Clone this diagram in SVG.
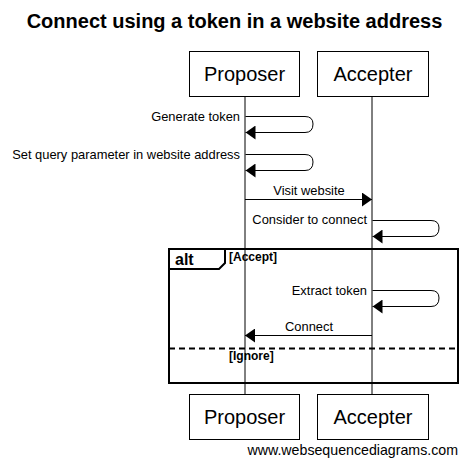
<svg xmlns="http://www.w3.org/2000/svg" width="469" height="465" viewBox="0 0 469 465">
<style>
.box{fill:#fff;stroke:#000;stroke-width:1}
.life{stroke:#000;stroke-width:1}
.pname{font-family:"Liberation Sans",Arial,sans-serif;font-size:20px;text-anchor:middle}
.lbl{font-family:"Liberation Sans",Arial,sans-serif;font-size:12.9px}
.msg{fill:none;stroke:#000;stroke-width:1}
.frame{fill:none;stroke:#000;stroke-width:2}
.bold{font-family:"Liberation Sans",Arial,sans-serif;font-weight:bold}
</style>
<defs>
<marker id="ah" viewBox="0 0 10 14" refX="10" refY="7" markerWidth="10" markerHeight="14" markerUnits="userSpaceOnUse" orient="auto">
<path d="M0,0 L10,7 L0,14 Z" fill="#000"/>
</marker>
</defs>
<rect width="469" height="465" fill="#fff"/>
<text x="234.5" y="28" class="bold" font-size="20" text-anchor="middle">Connect using a token in a website address</text>

<g id="lifelines">
<line class="life" x1="245" y1="96" x2="245" y2="394"/>
<line class="life" x1="372" y1="96" x2="372" y2="394"/>
</g>

<g id="proposer-top"><rect class="box" x="189.5" y="51.5" width="110" height="45"/><text class="pname" x="244.5" y="81">Proposer</text></g>
<g id="accepter-top"><rect class="box" x="317.5" y="51.5" width="111" height="45"/><text class="pname" x="373" y="81">Accepter</text></g>
<g id="proposer-bottom"><rect class="box" x="189.5" y="394.5" width="110" height="45"/><text class="pname" x="244.5" y="424">Proposer</text></g>
<g id="accepter-bottom"><rect class="box" x="317.5" y="394.5" width="111" height="45"/><text class="pname" x="373" y="424">Accepter</text></g>

<g id="alt-frame">
<rect class="frame" x="169" y="249" width="289" height="134"/>
<path class="frame" d="M169,269 H219 L225,263 V249" stroke-width="1.5"/>
<text x="175" y="265" class="bold" font-size="16">alt</text>
<text x="229" y="261" class="bold" font-size="12">[Accept]</text>
<line x1="169" y1="348.5" x2="458" y2="348.5" stroke="#000" stroke-width="2" stroke-dasharray="6,4"/>
<text x="229" y="360" class="bold" font-size="12">[Ignore]</text>
</g>

<g id="connectors">
<path class="msg" d="M245.5,116.5 H305 Q313,116.5 313,124 Q313,132.5 305,132.5 H245.5" marker-end="url(#ah)"/>
<text class="lbl" x="240" y="121" text-anchor="end">Generate token</text>
<path class="msg" d="M245.5,154.5 H305 Q313,154.5 313,162 Q313,170.5 305,170.5 H245.5" marker-end="url(#ah)"/>
<text class="lbl" x="240" y="159" text-anchor="end">Set query parameter in website address</text>
<line class="msg" x1="245" y1="199.5" x2="372" y2="199.5" marker-end="url(#ah)"/>
<text class="lbl" x="309" y="195" text-anchor="middle">Visit website</text>
<path class="msg" d="M372.5,220.5 H431 Q439,220.5 439,228 Q439,236.5 431,236.5 H372.5" marker-end="url(#ah)"/>
<text class="lbl" x="367" y="224" text-anchor="end">Consider to connect</text>
<path class="msg" d="M372.5,290.5 H431 Q439,290.5 439,298 Q439,306.5 431,306.5 H372.5" marker-end="url(#ah)"/>
<text class="lbl" x="367" y="295" text-anchor="end">Extract token</text>
<line class="msg" x1="372" y1="335.5" x2="245" y2="335.5" marker-end="url(#ah)"/>
<text class="lbl" x="309" y="331" text-anchor="middle">Connect</text>
</g>

<text x="458" y="455" font-family="'Liberation Sans',Arial,sans-serif" font-size="14.2" text-anchor="end">www.websequencediagrams.com</text>
</svg>
